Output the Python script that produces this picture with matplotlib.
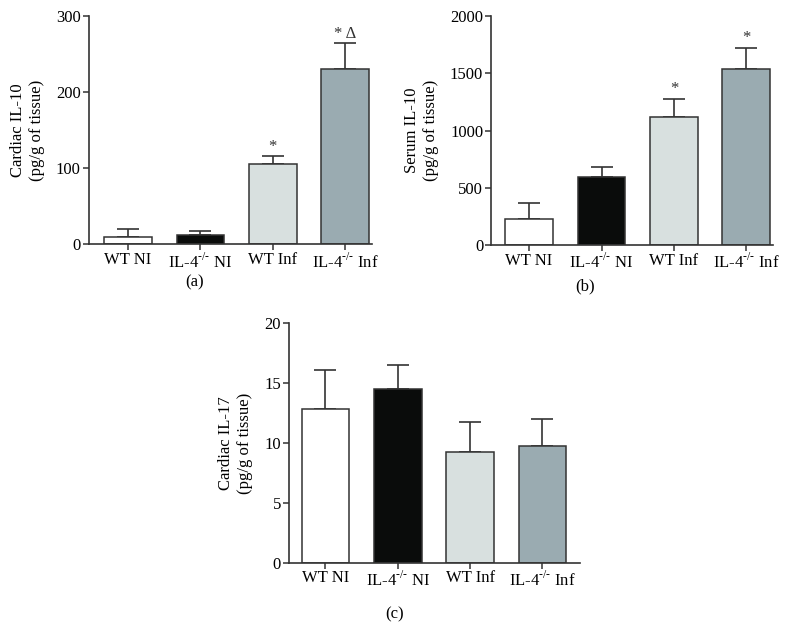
import matplotlib.pyplot as plt
import numpy as np

plt.rcParams["font.family"] = ["Liberation Serif", "DejaVu Serif"]
plt.rcParams["mathtext.fontset"] = "custom"
plt.rcParams["mathtext.rm"] = "Liberation Serif"

groups = ["WT NI", r"IL-4$^{\text{-/-}}$ NI", "WT Inf", r"IL-4$^{\text{-/-}}$ Inf"]
bar_colors = ["#ffffff", "#0a0c0b", "#d8e0df", "#9aabb1"]

cardiac_il10 = [10, 12, 105, 231]
cardiac_il10_top = [20, 17, 116, 264]
cardiac_il10_marks = ["", "", "*", "* Δ"]

serum_il10 = [227, 591, 1121, 1537]
serum_il10_top = [369, 684, 1278, 1723]
serum_il10_marks = ["", "", "*", "*"]

cardiac_il17 = [12.8, 14.55, 9.23, 9.75]
cardiac_il17_top = [16.1, 16.52, 11.73, 11.98]


def draw_panel(ax, values, tops, ylabel, ymax, step, xlim, marks=None, mark_pad=0.0):
    x = np.arange(len(values))
    err = np.array(tops) - np.array(values)
    ax.bar(x, values, width=0.66, color=bar_colors, edgecolor="#333333",
           linewidth=1.1, zorder=2)
    ax.errorbar(x, values, yerr=[np.zeros_like(err), err], fmt="none",
                ecolor="#333333", elinewidth=1.2, capsize=8, capthick=1.2,
                zorder=1)
    if marks:
        for xi, top, m in zip(x, tops, marks):
            if m:
                ax.text(xi, top + mark_pad, m, ha="center", va="bottom",
                        fontsize=12, color="#333333")
    ax.set_xlim(*xlim)
    ax.set_ylim(0, ymax)
    ax.set_yticks(np.arange(0, ymax + step / 2, step))
    ax.set_xticks(x)
    ax.set_xticklabels(groups, fontsize=12)
    ax.tick_params(axis="y", labelsize=12, length=4, width=1.1, color="#333333", pad=2)
    ax.tick_params(axis="x", length=4, width=1.1, color="#333333", pad=1.5)
    ax.set_ylabel(ylabel, fontsize=12, linespacing=1.25, labelpad=8)
    for s in ["top", "right"]:
        ax.spines[s].set_visible(False)
    for s in ["left", "bottom"]:
        ax.spines[s].set_linewidth(1.2)
        ax.spines[s].set_color("#333333")


fig = plt.figure(figsize=(7.94, 6.43), dpi=100)

ax_a = fig.add_axes([0.1121, 0.620, 0.3564, 0.355])
draw_panel(ax_a, cardiac_il10, cardiac_il10_top,
           "Cardiac IL-10\n(pg/g of tissue)", 300, 100, (-0.54, 3.37),
           cardiac_il10_marks, 2)

ax_b = fig.add_axes([0.619, 0.619, 0.3546, 0.356])
draw_panel(ax_b, serum_il10, serum_il10_top,
           "Serum IL-10\n(pg/g of tissue)", 2000, 500, (-0.52, 3.37),
           serum_il10_marks, 15)

ax_c = fig.add_axes([0.3644, 0.1249, 0.3661, 0.3723])
draw_panel(ax_c, cardiac_il17, cardiac_il17_top,
           "Cardiac IL-17\n(pg/g of tissue)", 20, 5, (-0.5, 3.52))

fig.text(195 / 794, 1 - 282 / 643, "(a)", ha="center", va="center", fontsize=12)
fig.text(585 / 794, 1 - 286 / 643, "(b)", ha="center", va="center", fontsize=12)
fig.text(395 / 794, 1 - 614 / 643, "(c)", ha="center", va="center", fontsize=12)

fig.savefig("out.png", dpi=100)
